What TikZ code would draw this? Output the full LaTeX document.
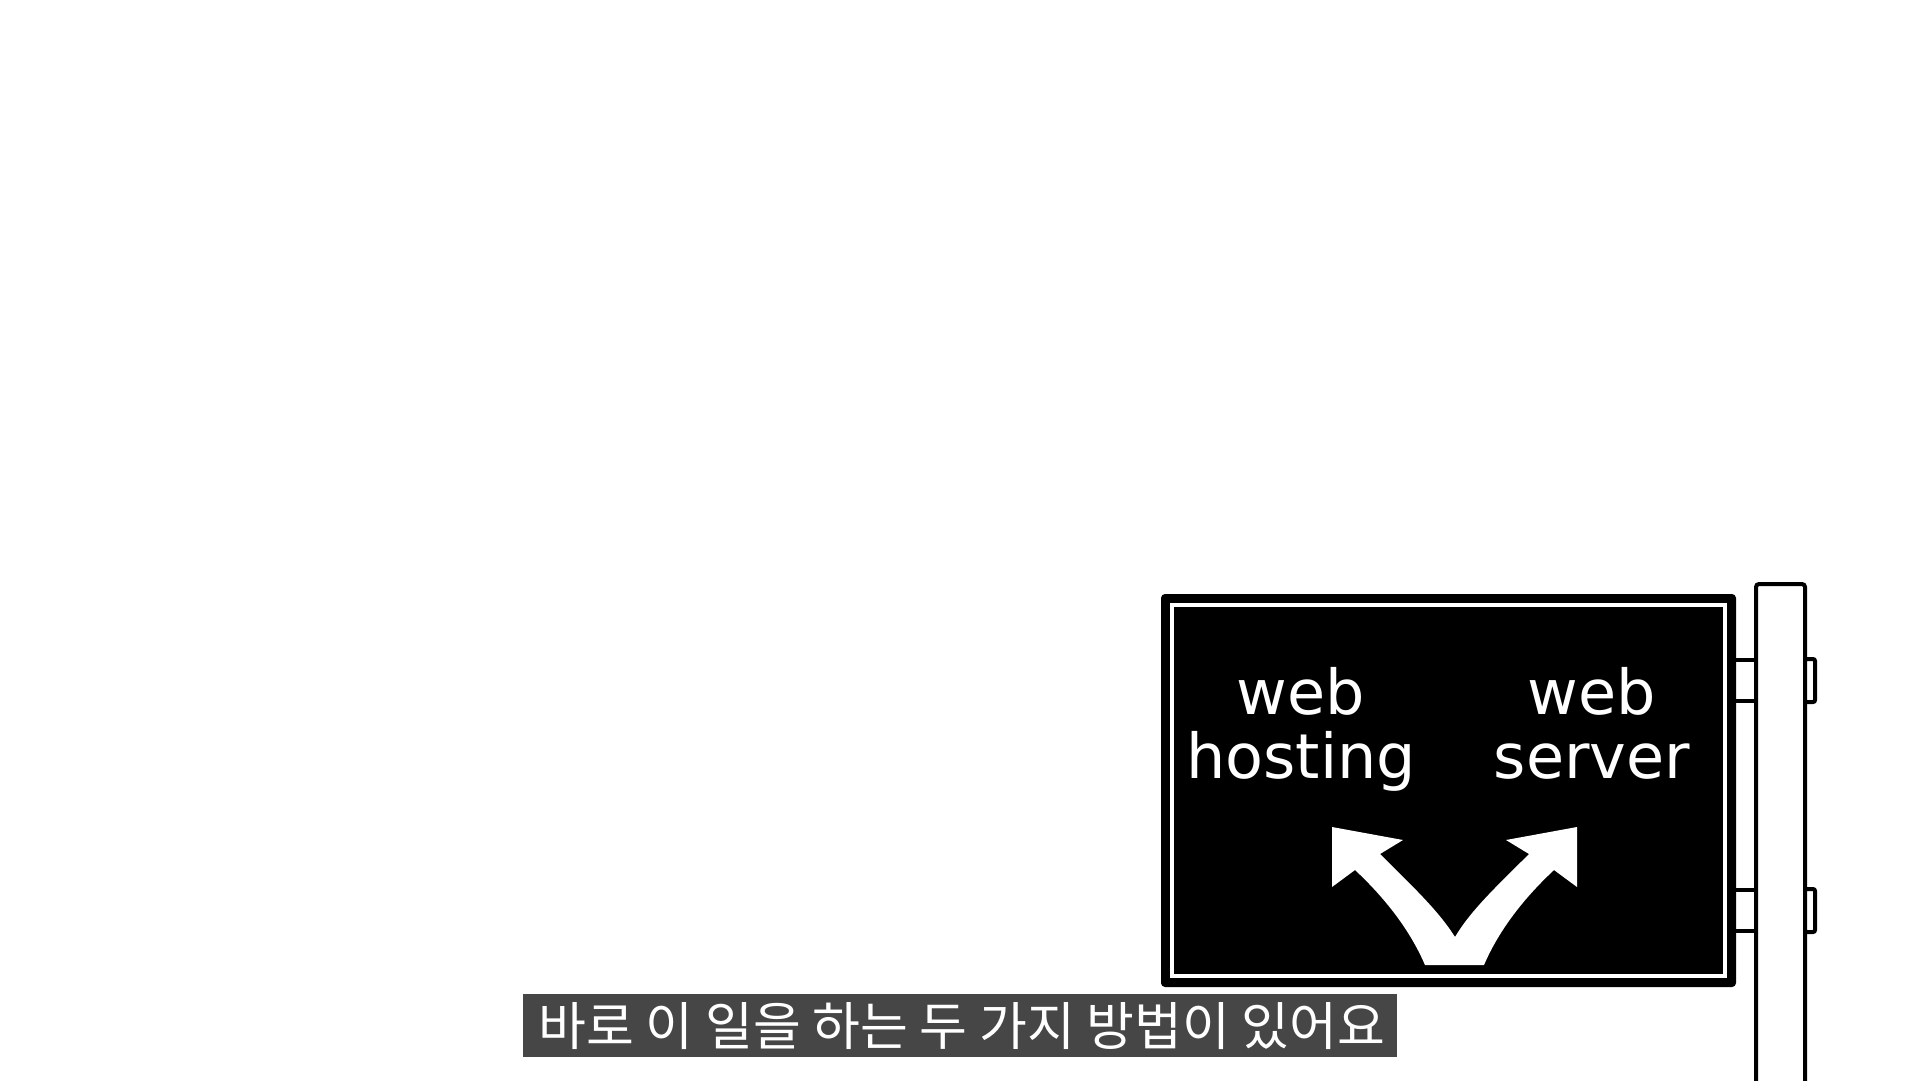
\documentclass[tikz,border=0pt]{standalone}
\usepackage{fontspec}
\setmainfont{DejaVu Sans}
\newfontfamily\krfont{Noto Sans CJK KR}
\definecolor{SubGray}{HTML}{464646}

\begin{document}
\begin{tikzpicture}[x=1pt,y=-1pt,
  signtext/.style={text=white,inner sep=0pt,anchor=base,
    font=\fontsize{62}{64}\selectfont},
  postline/.style={draw=black,line width=4pt,fill=white},
  subbox/.style={fill=SubGray,draw=none},
  subtext/.style={text=white,inner sep=0pt,
    font=\krfont\fontsize{52}{52}\selectfont}
]
\useasboundingbox[fill=white] (0,0) rectangle (1920,1080);
% clamps, post and tabs
\draw[postline] (1734,660) rectangle (1756,701);
\draw[postline] (1734,890) rectangle (1756,931);
\draw[postline,rounded corners=3pt] (1756,1090) -- (1756,584) -- (1805,584) -- (1805,1090);
\draw[postline,rounded corners=2pt] (1805,659) rectangle (1815,702);
\draw[postline,rounded corners=2pt] (1805,889) rectangle (1815,932);
% the sign board
\fill[rounded corners=4pt] (1161,594) rectangle (1736,987);
\draw[white,line width=4pt] (1172,605) rectangle (1725,976);
\node[signtext] (hostweb) at (1301,714) {web};
\node[signtext] (hostname) at (1301,778) {hosting};
\node[signtext] (servweb) at (1592,714) {web};
\node[signtext] (servname) at (1592,778) {server};
% forked arrow
\fill[white] (1425,965) .. controls (1410,930) and (1385,898) .. (1355,870)
  -- (1332,887) -- (1332,827) -- (1403,840) -- (1380,854)
  .. controls (1412,886) and (1438,910) .. (1455,937)
  .. controls (1471,910) and (1497,886) .. (1529,854)
  -- (1506,840) -- (1577,827) -- (1577,887) -- (1554,870)
  .. controls (1524,898) and (1499,930) .. (1484,965) -- cycle;
% subtitle
\fill[subbox] (523,994) rectangle (1397,1057);
\node[subtext] (caption) at (962,1026) {바로 이 일을 하는 두 가지 방법이 있어요};
\end{tikzpicture}
\end{document}
